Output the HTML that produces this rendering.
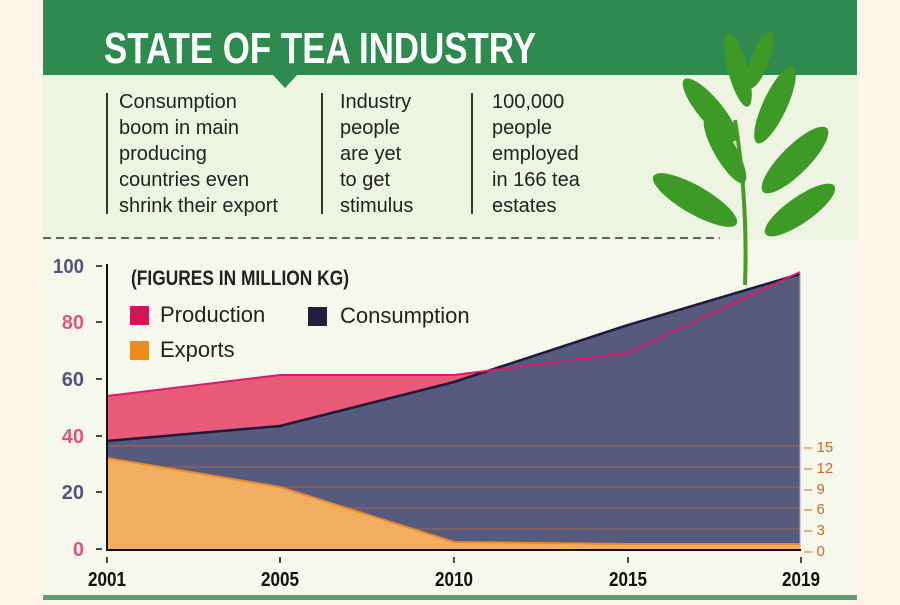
<!DOCTYPE html>
<html><head><meta charset="utf-8"><style>
body{margin:0;width:900px;height:600px;background:#fdf5ea;overflow:hidden;font-family:"Liberation Sans",sans-serif}
</style></head><body>
<svg width="900" height="600" xmlns="http://www.w3.org/2000/svg">
<rect x="43" y="0" width="814" height="600" fill="#f6f8ec"/>
<rect x="43" y="75" width="814" height="165" fill="#eef4e2"/>
<rect x="43" y="0" width="814" height="75" fill="#2e8a4e"/>
<polygon points="272,74 298,74 285,88" fill="#2e8a4e"/>
<text x="104" y="63" font-weight="bold" font-size="44" fill="#fff" textLength="432" lengthAdjust="spacingAndGlyphs">STATE OF TEA INDUSTRY</text>
<g stroke="#333" stroke-width="2"><line x1="107" y1="93" x2="107" y2="214"/><line x1="322" y1="93" x2="322" y2="214"/><line x1="472" y1="93" x2="472" y2="214"/></g>
<g font-size="20" fill="#222">
<text x="119" y="108">Consumption</text><text x="119" y="134">boom in main</text><text x="119" y="160">producing</text><text x="119" y="186">countries even</text><text x="119" y="212">shrink their export</text>
<text x="340" y="108">Industry</text><text x="340" y="134">people</text><text x="340" y="160">are yet</text><text x="340" y="186">to get</text><text x="340" y="212">stimulus</text>
<text x="492" y="108">100,000</text><text x="492" y="134">people</text><text x="492" y="160">employed</text><text x="492" y="186">in 166 tea</text><text x="492" y="212">estates</text>
</g>
<line x1="43" y1="238" x2="720" y2="238" stroke="#333" stroke-width="1.5" stroke-dasharray="8,5"/>
<g fill="#3e9a26">
<path d="M745 285 Q748 200 735 120" stroke="#4c9a2a" stroke-width="4" fill="none"/>
<ellipse cx="738" cy="70" rx="10" ry="38" transform="rotate(-15 738 70)"/>
<ellipse cx="775" cy="105" rx="12" ry="42" transform="rotate(25 775 105)"/>
<ellipse cx="710" cy="110" rx="12" ry="40" transform="rotate(-40 710 110)"/>
<ellipse cx="795" cy="160" rx="14" ry="45" transform="rotate(45 795 160)"/>
<ellipse cx="695" cy="200" rx="14" ry="48" transform="rotate(-60 695 200)"/>
<ellipse cx="800" cy="210" rx="13" ry="42" transform="rotate(55 800 210)"/>
<ellipse cx="725" cy="150" rx="11" ry="38" transform="rotate(-30 725 150)"/>
<ellipse cx="760" cy="60" rx="9" ry="30" transform="rotate(20 760 60)"/>
</g>
<polygon points="107,396 280,375 454,375 628,353 800,272 800,549 107,549" fill="#e85a78"/>
<polygon points="107,441 280,426 454,382 628,325 800,274 800,549 107,549" fill="#565b7d"/>
<g stroke="#c0683a" stroke-width="1" opacity="0.8"><line x1="107" y1="446" x2="800" y2="446"/><line x1="107" y1="467" x2="800" y2="467"/><line x1="107" y1="487" x2="800" y2="487"/><line x1="107" y1="508" x2="800" y2="508"/><line x1="107" y1="529" x2="800" y2="529"/></g>
<polygon points="107,458 280,487 454,542 628,544 800,544 800,549 107,549" fill="#f2ae60"/>
<polyline points="107,458 280,487 454,542 628,544 800,544" fill="none" stroke="#ec8a2a" stroke-width="2"/>
<polyline points="107,441 280,426 454,382 628,325 800,274" fill="none" stroke="#1e1a3a" stroke-width="2.5"/>
<polyline points="107,396 280,375 454,375 628,353 800,272" fill="none" stroke="#d61d6b" stroke-width="2"/>
<line x1="800" y1="272" x2="800" y2="549" stroke="#aab" stroke-width="1"/>
<line x1="107" y1="264" x2="107" y2="551" stroke="#111" stroke-width="2"/>
<line x1="106" y1="550" x2="801" y2="550" stroke="#111" stroke-width="2"/>
<g stroke="#111" stroke-width="1.5"><line x1="96" y1="266" x2="102" y2="266"/><line x1="96" y1="322" x2="102" y2="322"/><line x1="96" y1="379" x2="102" y2="379"/><line x1="96" y1="436" x2="102" y2="436"/><line x1="96" y1="492" x2="102" y2="492"/><line x1="96" y1="549" x2="102" y2="549"/>
<line x1="107" y1="557" x2="107" y2="563"/><line x1="280" y1="557" x2="280" y2="563"/><line x1="454" y1="557" x2="454" y2="563"/><line x1="628" y1="557" x2="628" y2="563"/><line x1="801" y1="557" x2="801" y2="563"/></g>
<g font-weight="bold" font-size="20" text-anchor="end">
<text x="84" y="273" fill="#4f5580" textLength="31" lengthAdjust="spacingAndGlyphs">100</text><text x="84" y="329" fill="#e0567a">80</text><text x="84" y="386" fill="#4f5580">60</text><text x="84" y="443" fill="#e0567a">40</text><text x="84" y="499" fill="#4f5580">20</text><text x="84" y="556" fill="#e0567a">0</text>
</g>
<g font-weight="bold" font-size="20" text-anchor="middle" fill="#111">
<text x="107" y="586" textLength="38" lengthAdjust="spacingAndGlyphs">2001</text><text x="280" y="586" textLength="38" lengthAdjust="spacingAndGlyphs">2005</text><text x="454" y="586" textLength="38" lengthAdjust="spacingAndGlyphs">2010</text><text x="628" y="586" textLength="38" lengthAdjust="spacingAndGlyphs">2015</text><text x="801" y="586" textLength="38" lengthAdjust="spacingAndGlyphs">2019</text>
</g>
<g font-size="15" fill="#d0692a">
<text x="804" y="452">– 15</text><text x="804" y="473">– 12</text><text x="804" y="494">– 9</text><text x="804" y="514">– 6</text><text x="804" y="535">– 3</text><text x="804" y="556">– 0</text>
</g>
<text x="131" y="285" font-weight="bold" font-size="21" fill="#222" textLength="218" lengthAdjust="spacingAndGlyphs">(FIGURES IN MILLION KG)</text>
<rect x="130" y="306" width="19" height="19" fill="#d4145a"/><text x="160" y="322" font-size="22" fill="#222">Production</text>
<rect x="308" y="307" width="19" height="19" fill="#221e3c"/><text x="340" y="323" font-size="22" fill="#222">Consumption</text>
<rect x="130" y="341" width="19" height="19" fill="#ed8a22"/><text x="160" y="357" font-size="22" fill="#222">Exports</text>
<rect x="43" y="595" width="814" height="5" fill="#5e9e72"/>
</svg>
</body></html>
